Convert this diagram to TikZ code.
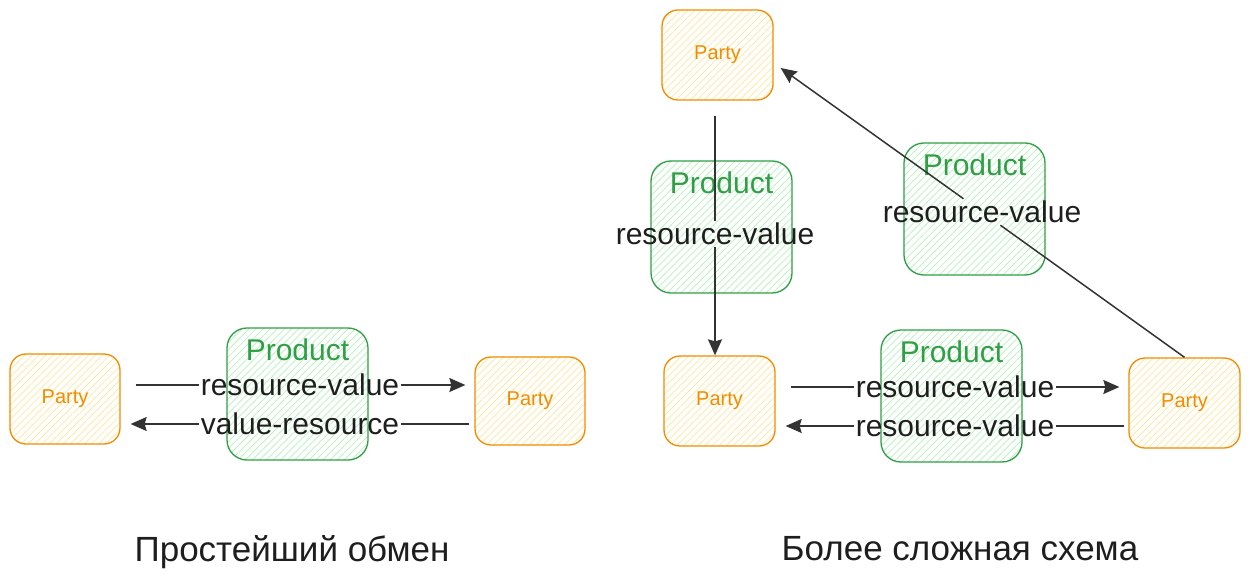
\documentclass[tikz,border=0pt]{standalone}
\usepackage{fontspec}
\setmainfont{Liberation Sans}
\usetikzlibrary{patterns.meta,calc,arrows.meta}
\definecolor{orng}{HTML}{F08C00}
\definecolor{orngfill}{HTML}{FFE69A}
\definecolor{grn}{HTML}{2F9E44}
\definecolor{grnfill}{HTML}{B2F2BB}
\definecolor{ink}{HTML}{1E1E1E}
\definecolor{arrink}{HTML}{333333}
\tikzset{
  party/.style={draw=orng, line width=1.3pt, rounded corners=16pt,
    minimum width=110pt, minimum height=90pt,
    pattern={Lines[angle=45,distance=5pt,line width=0.7pt]}, pattern color=orngfill,
    text=orng, font=\fontsize{20}{22}\selectfont},
  product/.style={draw=grn, line width=1.3pt, rounded corners=20pt,
    minimum width=141pt, minimum height=132pt,
    pattern={Lines[angle=45,distance=5pt,line width=0.7pt]}, pattern color=grnfill},
  prodtxt/.style={text=grn, font=\fontsize{30}{32}\selectfont, inner sep=0pt},
  lbl/.style={text=ink, font=\fontsize{30}{32}\selectfont, inner sep=2pt},
  ttl/.style={text=ink, font=\fontsize{35}{37}\selectfont},
  ln/.style={draw=arrink, line width=1.5pt},
  arr/.style={ln, -{Stealth[length=16pt,width=14pt,inset=2pt]}},
}
\begin{document}
\begin{tikzpicture}[x=1pt,y=-1pt]
\useasboundingbox (0,0) rectangle (1250,585);
% ---------- left: simple exchange ----------
\node[product] (prL) at (297.5,394) {};
\node[prodtxt] (prLt) at ($(prL.north)+(0,22)$) {Product};
\node[party] (pA) at (65,399) {Party};
\node[party, minimum height=88pt] (pB) at (530,401) {Party};
\node[lbl] (l1) at (300,385) {resource-value};
\node[lbl] (l2) at (300,424) {value-resource};
\draw[ln] ($(pA.east |- l1)+(15,0)$) -- (l1);
\draw[arr] (l1) -- ($(pB.west |- l1)+(-9,0)$);
\draw[ln] ($(pB.west |- l2)+(-5,0)$) -- (l2);
\draw[arr] (l2) -- ($(pA.east |- l2)+(10,0)$);
\node[ttl] (t1) at (292,552) {Простейший обмен};
% ---------- right: more complex scheme ----------
\node[party, minimum width=111pt] (pT) at (717.5,55) {Party};
\node[product] (prM) at (721.5,227) {};
\node[prodtxt] (prMt) at ($(prM.north)+(0,22)$) {Product};
\node[party, minimum width=111pt] (pBL) at (719.5,401) {Party};
\node[product] (prB) at (951.5,396) {};
\node[prodtxt] (prBt) at ($(prB.north)+(0,22)$) {Product};
\node[party, minimum width=111pt] (pR) at (1184.5,403) {Party};
\node[product] (prR) at (974.5,209) {};
\node[prodtxt] (prRt) at ($(prR.north)+(0,22)$) {Product};
% vertical arrow
\node[lbl] (lM) at (715,234) {resource-value};
\draw[ln] ($(pT.south -| lM)+(0,15)$) -- (lM);
\draw[arr] (lM) -- (pBL.north -| lM);
% horizontal arrows
\node[lbl] (l3) at (955,387) {resource-value};
\node[lbl] (l4) at (955,426) {resource-value};
\draw[ln] ($(pBL.east |- l3)+(15,0)$) -- (l3);
\draw[arr] (l3) -- ($(pR.west |- l3)+(-9,0)$);
\draw[ln] ($(pR.west |- l4)+(-4,0)$) -- (l4);
\draw[arr] (l4) -- ($(pBL.east |- l4)+(10,0)$);
% diagonal arrow
\node[lbl] (lR) at (982,212) {resource-value};
\draw[ln] (pR.north) -- (lR);
\draw[arr] (lR) -- ($(pT.east)+(7,13)$);
\node[ttl] (t2) at (960,549) {Более сложная схема};
\end{tikzpicture}
\end{document}
